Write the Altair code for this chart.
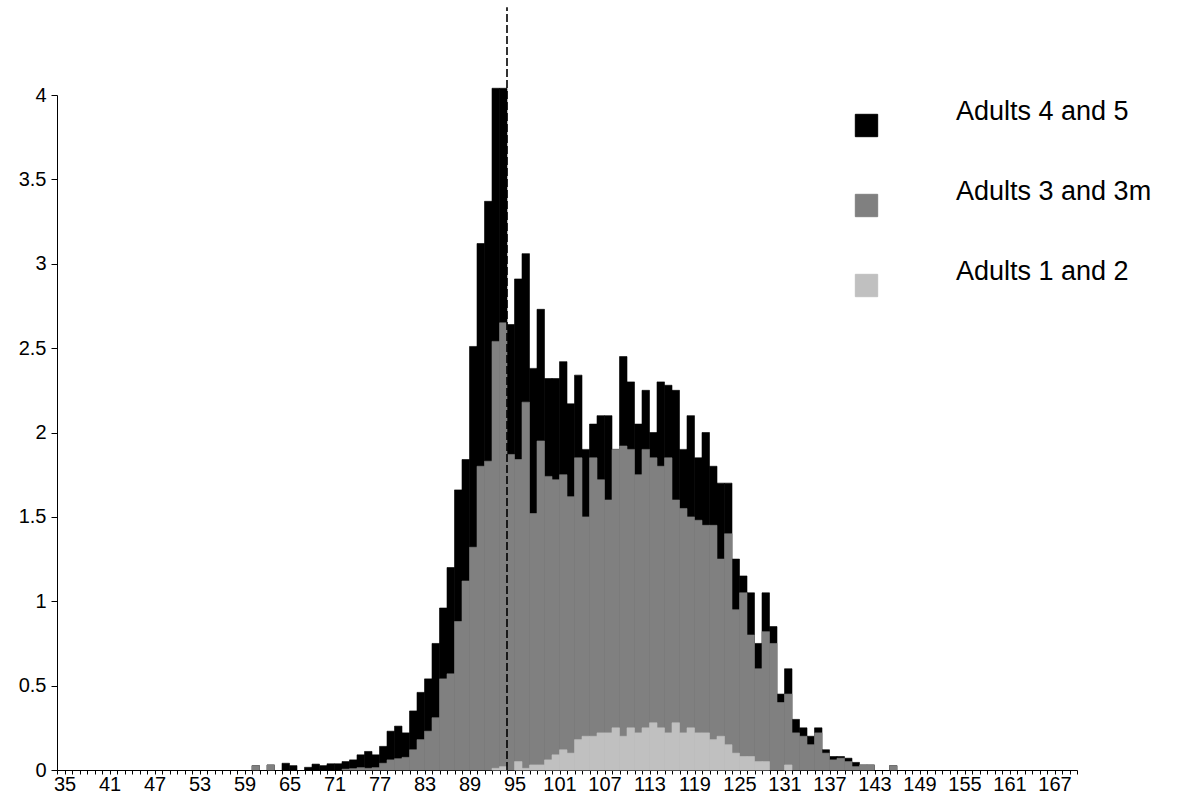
import altair as alt
import pandas as pd

# size classes: class b covers [b, b+1)
bins = list(range(59, 146))

# top of black columns: all adults (4 and 5 included)
total = [
    0.0, 0.026, 0.0, 0.03, 0.0, 0.04, 0.026, 0.0, 0.016, 0.035,      # 59-68
    0.026, 0.037, 0.037, 0.05, 0.06, 0.09, 0.11, 0.09, 0.14, 0.23,   # 69-78
    0.26, 0.22, 0.35, 0.46, 0.54, 0.75, 0.96, 1.2, 1.66, 1.84,       # 79-88
    2.51, 3.12, 3.37, 4.04, 4.04, 2.64, 2.91, 3.06, 2.38, 2.73,      # 89-98
    2.32, 2.32, 2.42, 2.17, 2.34, 1.9, 2.05, 2.1, 2.1, 1.9,          # 99-108
    2.45, 2.3, 2.05, 2.25, 2.0, 2.3, 2.28, 2.25, 1.9, 2.1,           # 109-118
    1.85, 2.0, 1.8, 1.7, 1.7, 1.25, 1.15, 1.05, 0.75, 1.05,          # 119-128
    0.85, 0.45, 0.6, 0.3, 0.25, 0.2, 0.25, 0.12, 0.08, 0.08,         # 129-138
    0.07, 0.045, 0.03, 0.03, 0.0, 0.0, 0.026,                        # 139-145
]
# top of mid-grey columns: adults 1 to 3m
mid = [
    0.0, 0.026, 0.0, 0.03, 0.0, 0.0, 0.0, 0.0, 0.0, 0.0,
    0.0, 0.0, 0.0, 0.005, 0.008, 0.014, 0.01, 0.014, 0.04, 0.06,
    0.067, 0.075, 0.12, 0.18, 0.23, 0.31, 0.54, 0.57, 0.88, 1.12,
    1.32, 1.80, 1.83, 2.54, 2.65, 1.87, 1.84, 2.18, 1.52, 1.95,
    1.74, 1.72, 1.75, 1.62, 1.85, 1.5, 1.85, 1.72, 1.6, 1.9,
    1.92, 1.9, 1.75, 1.9, 1.85, 1.8, 1.85, 1.6, 1.55, 1.5,
    1.48, 1.45, 1.45, 1.25, 1.4, 0.95, 1.05, 0.8, 0.6, 0.82,
    0.75, 0.4, 0.45, 0.22, 0.2, 0.15, 0.22, 0.1, 0.06, 0.07,
    0.05, 0.02, 0.03, 0.03, 0.0, 0.0, 0.026,
]
# top of light-grey columns: adults 1 and 2
light = [
    0.0, 0.0, 0.0, 0.0, 0.0, 0.0, 0.0, 0.0, 0.0, 0.0,
    0.0, 0.0, 0.0, 0.0, 0.0, 0.0, 0.0, 0.0, 0.0, 0.0,
    0.0, 0.0, 0.0, 0.0, 0.0, 0.0, 0.0, 0.0, 0.0, 0.0,
    0.0, 0.0, 0.0, 0.01, 0.02, 0.0, 0.05, 0.01, 0.03, 0.03,
    0.06, 0.09, 0.12, 0.1, 0.18, 0.2, 0.2, 0.22, 0.22, 0.25,
    0.2, 0.25, 0.22, 0.25, 0.28, 0.25, 0.22, 0.28, 0.22, 0.25,
    0.22, 0.22, 0.18, 0.2, 0.15, 0.1, 0.08, 0.08, 0.05, 0.05,
    0.0, 0.0, 0.03, 0.0, 0.0, 0.0, 0.0, 0.0, 0.0, 0.0,
    0.0, 0.0, 0.0, 0.0, 0.0, 0.0, 0.0,
]

series_names = ["Adults 4 and 5", "Adults 3 and 3m", "Adults 1 and 2"]
series_colors = ["#000000", "#808080", "#c0c0c0"]
series_values = [total, mid, light]

x_labels = list(range(35, 168, 6))
y_ticks = [0, 0.5, 1, 1.5, 2, 2.5, 3, 3.5, 4]
marker_x = 94
marker_top = 4.52

rows = []
for name, vals in zip(series_names, series_values):
    for b, v in zip(bins, vals):
        if v > 0:
            rows.append({"size": b, "series": name, "value": v})
df = pd.DataFrame(rows)

x_scale = alt.Scale(domain=[34, 170], nice=False, zero=False)
y_scale = alt.Scale(domain=[0, 4], nice=False)
color_scale = alt.Scale(domain=series_names, range=series_colors)

tick_values = list(range(34, 171))
label_test = " || ".join(f"datum.value == {v}" for v in x_labels)

FONT = "Liberation Sans"


def x_axis():
    return alt.Axis(
        values=tick_values,
        labelExpr=f"({label_test}) ? format(datum.value, 'd') : ''",
        labelOverlap=False,
        labelFlush=False,
        labelBound=False,
        tickSize=4,
        labelPadding=0,
        grid=False,
        domainColor="black",
        tickColor="black",
        labelColor="black",
        labelFontSize=20,
        labelFont=FONT,
    )


def y_axis():
    return alt.Axis(
        values=y_ticks,
        format="~g",
        tickSize=6,
        labelPadding=5,
        grid=False,
        domainColor="black",
        tickColor="black",
        labelColor="black",
        labelFontSize=20,
        labelFont=FONT,
    )


bars = (
    alt.Chart(df)
    .transform_calculate(
        x0="datum.size", x1="datum.size + 1", base="0", edge="datum.series"
    )
    .mark_bar(strokeWidth=0.6)
    .encode(
        x=alt.X("x0:Q", scale=x_scale, title=None, axis=x_axis()),
        x2="x1:Q",
        y=alt.Y("value:Q", scale=y_scale, stack=None, title=None, axis=y_axis()),
        y2="base:Q",
        color=alt.Color(
            "series:N",
            scale=color_scale,
            title=None,
            legend=alt.Legend(
                orient="none",
                legendX=796,
                legendY=17,
                symbolType="square",
                symbolSize=500,
                symbolStrokeColor="black",
                symbolStrokeWidth=1,
                symbolOpacity=1,
                labelFontSize=27,
                labelFont=FONT,
                labelColor="black",
                labelOffset=76,
                labelBaseline="bottom",
                rowPadding=38,
                labelLimit=400,
            ),
        ),
        stroke=alt.Stroke("edge:N", scale=color_scale, legend=None),
    )
)

marker_df = pd.DataFrame({"x": [marker_x], "y": [0.0], "y2": [marker_top]})
marker = (
    alt.Chart(marker_df)
    .mark_rule(color="black", strokeWidth=1.6, strokeDash=[8, 3])
    .encode(
        x=alt.X("x:Q", scale=x_scale, title=None, axis=x_axis()),
        y=alt.Y("y:Q", scale=y_scale, title=None, axis=y_axis()),
        y2="y2:Q",
    )
)

chart = (
    alt.layer(bars, marker)
    .properties(
        width=1020,
        height=675,
        autosize=alt.AutoSizeParams(type="none"),
        padding={"left": 57, "top": 95, "right": 125, "bottom": 26},
        background="white",
    )
    .configure_view(stroke=None)
    .configure_axis(labelOverlap=False)
)

chart.save("out.html", embed_options={"renderer": "svg", "actions": False})
